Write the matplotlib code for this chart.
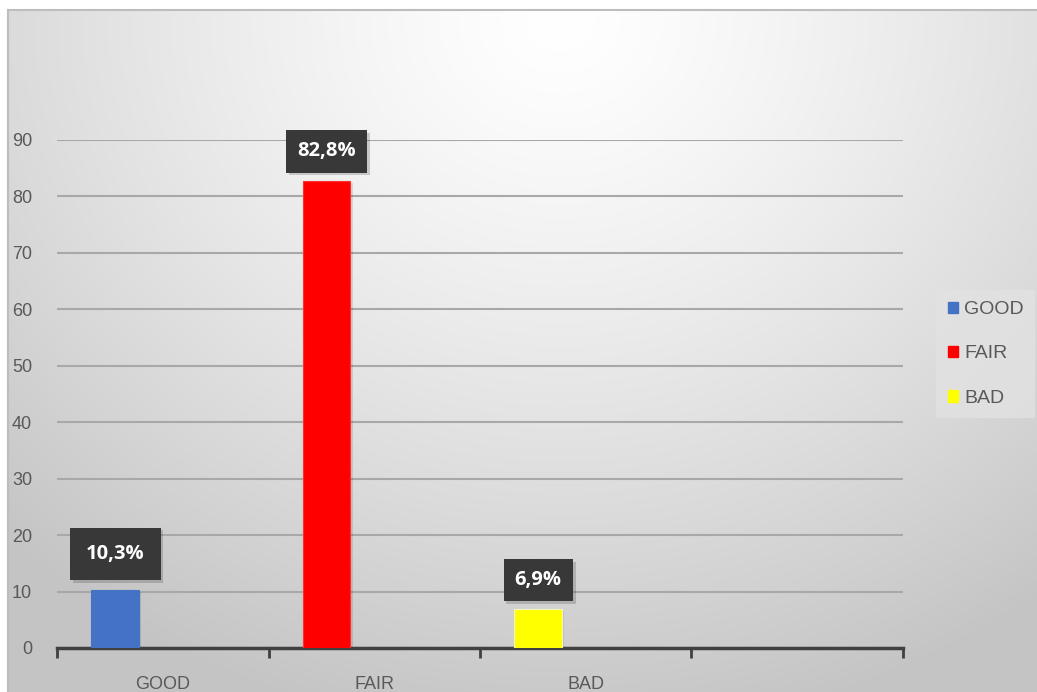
import numpy as np
import matplotlib
matplotlib.use('Agg')
import matplotlib.pyplot as plt
import matplotlib.patheffects as pe
from matplotlib.patches import Rectangle

plt.rcParams['font.family'] = ['Liberation Sans Narrow', 'Liberation Sans', 'DejaVu Sans']

# datos
categorias = ['GOOD', 'FAIR', 'BAD', '']
valores = [10.3, 82.8, 6.9]
etiquetas = ['10,3%', '82,8%', '6,9%']
cores = ['#4472C4', '#FF0000', '#FFFF00']
yticks = list(range(0, 100, 10))

W, H = 1037, 692
fig = plt.figure(figsize=(W / 100, H / 100), dpi=100)

# fundo com gradiente radial (estilo excel)
bg = fig.add_axes([0, 0, 1, 1])
yy, xx = np.mgrid[0:H, 0:W]
dist = np.sqrt(((xx - 560) / 1.0) ** 2 + ((yy - 20) / 0.9) ** 2)
t = np.clip(dist / 800.0, 0, 1)
cor = 1.0 - 0.23 * t ** 1.3
img = np.dstack([cor, cor, cor])
img[:10, :, :] = 1.0
img[:, :8, :] = 1.0
bg.imshow(img, aspect='auto', extent=[0, W, H, 0])
bg.plot([8, W], [10, 10], color='#bdbdbd', lw=1.5)
bg.plot([8, 8], [10, H], color='#bdbdbd', lw=1.5)
bg.set_xlim(0, W)
bg.set_ylim(H, 0)
bg.axis('off')

ax = fig.add_axes([57 / W, 1 - 648 / H, (903 - 57) / W, (648 - 140) / H])
ax.patch.set_alpha(0)

xpos = [i + 0.275 for i in range(len(valores))]
barras = ax.bar(xpos, valores, width=0.225, color=cores, zorder=3,
                edgecolor=['#4472C4', '#FF3030', '#F4F4C0'], linewidth=0.8)
for b in barras:
    b.set_path_effects([pe.SimplePatchShadow(offset=(1.5, -1.5), alpha=0.12), pe.Normal()])

ax.set_xlim(0, 4)
ax.set_ylim(0, 90)
ax.set_yticks(yticks)
ax.grid(axis='y', color='#a8a8a8', lw=1.5, zorder=0)
ax.set_axisbelow(True)

ax.set_xticks(range(5))
ax.set_xticklabels([])
ax.set_xticks([i + 0.5 for i in range(4)], minor=True)
ax.set_xticklabels(categorias, minor=True)
ax.tick_params(axis='x', which='major', direction='out', length=7, width=2, color='#404040')
ax.tick_params(axis='x', which='minor', length=0, pad=20, labelsize=13, labelcolor='#595959')
ax.tick_params(axis='y', length=0, pad=18, labelsize=13, labelcolor='#595959')

for s in ['top', 'right', 'left']:
    ax.spines[s].set_visible(False)
ax.spines['bottom'].set_color('#404040')
ax.spines['bottom'].set_linewidth(2.5)

# rotulos de dados
for x, v, lab in zip(xpos, valores, etiquetas):
    pad = 0.55 if v < 10 or v > 50 else 0.8
    txt = ax.annotate(lab, (x, v), xytext=(0, 21 if pad < 0.7 else 26), textcoords='offset points',
                      ha='center', va='center', color='white', fontsize=14.5, fontweight='bold',
                      family=['Open Sans', 'DejaVu Sans'], zorder=5, annotation_clip=False,
                      bbox=dict(boxstyle='square,pad=%s' % pad, fc='#383838', ec='none'))
    txt.get_bbox_patch().set_path_effects([pe.SimplePatchShadow(offset=(2, -2), alpha=0.18), pe.Normal()])

# legenda
hs = [Rectangle((0, 0), 1, 1, color=c) for c in cores]
leg = fig.legend(hs, categorias[:3], loc='center left', bbox_to_anchor=(936 / W, 1 - 354 / H),
                 frameon=True, fontsize=14, handlelength=0.55, handleheight=0.55,
                 labelspacing=1.4, handletextpad=0.3, borderpad=0.6, borderaxespad=0)
leg.get_frame().set_facecolor('#e2e2e2')
leg.get_frame().set_edgecolor('none')
leg.get_frame().set_alpha(0.8)
leg.get_frame().set_boxstyle('square', pad=0)
for t in leg.get_texts():
    t.set_color('#595959')

fig.savefig('out.png', dpi=100)
